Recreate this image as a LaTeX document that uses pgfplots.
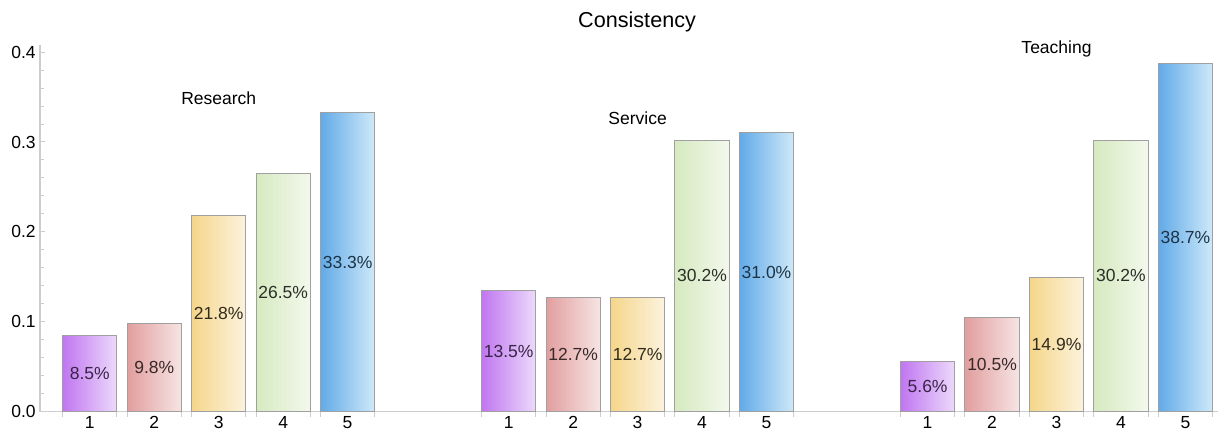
\documentclass[border=0pt]{standalone}
\usepackage{pgfplots}
\pgfplotsset{compat=1.18}
\usepackage{pgfplotstable}
\usepackage{fontspec}
\setmainfont{Liberation Sans}

% Share of answers per rating (in %), one table per rating.
% x: bar position (Research 1-5, Service 7.5-11.5, Teaching 14-18)
\pgfplotstableread{
x    p
1    8.5
7.5  13.5
14   5.6
}\rateone
\pgfplotstableread{
x    p
2    9.8
8.5  12.7
15   10.5
}\ratetwo
\pgfplotstableread{
x    p
3    21.8
9.5  12.7
16   14.9
}\ratethree
\pgfplotstableread{
x    p
4    26.5
10.5 30.2
17   30.2
}\ratefour
\pgfplotstableread{
x    p
5    33.3
11.5 31.0
18   38.7
}\ratefive

\definecolor{purpA}{RGB}{192,118,240}
\definecolor{purpB}{RGB}{236,218,251}
\definecolor{redA}{RGB}{226,158,158}
\definecolor{redB}{RGB}{246,228,228}
\definecolor{yelA}{RGB}{245,214,138}
\definecolor{yelB}{RGB}{252,243,222}
\definecolor{grnA}{RGB}{214,234,192}
\definecolor{grnB}{RGB}{243,248,236}
\definecolor{bluA}{RGB}{98,170,232}
\definecolor{bluB}{RGB}{206,233,249}
\definecolor{barline}{RGB}{160,160,160}
\definecolor{axisgray}{RGB}{205,205,205}

\newcommand{\lbl}{\fontsize{8.75}{10}\selectfont}

\pgfplotsset{
  ratebar/.style 2 args={ybar, bar width=0.84, bar shift=0pt,
    draw=barline, line width=0.5pt, left color=#1, right color=#2},
  ratelabel/.style={draw=none, mark=none, point meta=explicit,
    nodes near coords={\pgfmathprintnumber[fixed,fixed zerofill,precision=1,assume math mode=true]{\pgfplotspointmeta}\%},
    every node near coord/.append style={anchor=center, font=\lbl, text=#1, inner sep=0pt}},
  % keep a single row of a three-row table, so every bar gets its own shading
  row0/.style={skip coords between index={1}{3}},
  row1/.style={skip coords between index={0}{1}, skip coords between index={2}{3}},
  row2/.style={skip coords between index={0}{2}},
}

% three bars (one per group) for one rating
\newcommand{\ratebars}[3]{%
  \addplot[ratebar={#2}{#3}, row0] table[x=x, y expr=\thisrow{p}/100] {#1};
  \addplot[ratebar={#2}{#3}, row1] table[x=x, y expr=\thisrow{p}/100] {#1};
  \addplot[ratebar={#2}{#3}, row2] table[x=x, y expr=\thisrow{p}/100] {#1};
}

\begin{document}
\begin{tikzpicture}
\useasboundingbox (0,0) rectangle (609.5pt,215.5pt);
\begin{axis}[
  at={(20pt,9.65pt)}, anchor=south west,
  scale only axis, width=588.8pt, height=183.4pt,
  xmin=0.227, xmax=18.5, ymin=0, ymax=0.408,
  axis x line*=bottom, axis y line*=left,
  axis line style={axisgray, line width=0.6pt, -},
  clip=false,
  ytick={0,0.1,0.2,0.3,0.4},
  minor y tick num=4,
  yticklabel style={/pgf/number format/fixed, /pgf/number format/fixed zerofill,
    /pgf/number format/precision=1, /pgf/number format/assume math mode=true,
    font=\lbl, inner sep=2pt},
  y tick style={axisgray, line width=0.5pt},
  ytick align=inside,
  major tick length=2.5pt, minor tick length=2pt,
  xtick={1,2,3,4,5,7.5,8.5,9.5,10.5,11.5,14,15,16,17,18},
  xticklabels={1,2,3,4,5,1,2,3,4,5,1,2,3,4,5},
  x tick style={draw=none},
  xticklabel style={font=\lbl, inner sep=2pt},
  extra x ticks={0.58,1.42,1.58,2.42,2.58,3.42,3.58,4.42,4.58,5.42,
    7.08,7.92,8.08,8.92,9.08,9.92,10.08,10.92,11.08,11.92,
    13.58,14.42,14.58,15.42,15.58,16.42,16.58,17.42,17.58,18.42},
  extra x tick labels={},
  extra x tick style={xtick align=outside,
    x tick style={draw=axisgray, line width=0.5pt}, major tick length=2.5pt},
]
\ratebars{\rateone}{purpA}{purpB}
\ratebars{\ratetwo}{redA}{redB}
\ratebars{\ratethree}{yelA}{yelB}
\ratebars{\ratefour}{grnA}{grnB}
\ratebars{\ratefive}{bluA}{bluB}

% value labels, centred halfway up each bar
\addplot[ratelabel={purpA!30!black}] table[x=x, y expr=\thisrow{p}/200, meta=p] {\rateone};
\addplot[ratelabel={redA!25!black}]  table[x=x, y expr=\thisrow{p}/200, meta=p] {\ratetwo};
\addplot[ratelabel={yelA!20!black}]  table[x=x, y expr=\thisrow{p}/200, meta=p] {\ratethree};
\addplot[ratelabel={grnA!20!black}]  table[x=x, y expr=\thisrow{p}/200, meta=p] {\ratefour};
\addplot[ratelabel={bluA!30!black}]  table[x=x, y expr=\thisrow{p}/200, meta=p] {\ratefive};

% chart title and group names above the middle bar of each group
\node[font=\fontsize{10.8}{12}\selectfont] at (axis description cs:0.507,1.062) {Consistency};
\node[font=\lbl] at (axis cs:3,0.349) {Research};
\node[font=\lbl] at (axis cs:9.5,0.326) {Service};
\node[font=\lbl] at (axis cs:16,0.403) {Teaching};
\end{axis}
\end{tikzpicture}
\end{document}
